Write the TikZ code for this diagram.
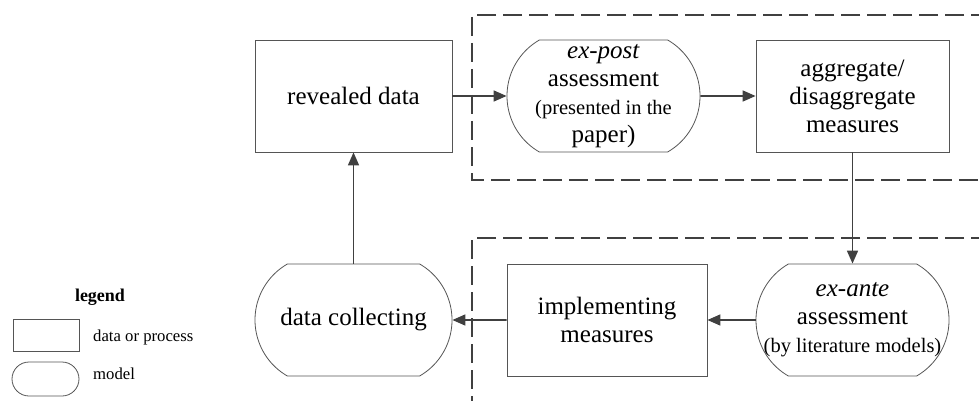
\documentclass[tikz,border=0pt]{standalone}
\usepackage{fontspec}
\setmainfont{Liberation Serif}
\usetikzlibrary{shapes.misc,arrows.meta}
\definecolor{linegray}{HTML}{404040}
\definecolor{boxgray}{HTML}{555555}
\newcommand{\smalltext}{\fontsize{20.5}{27}\selectfont}

\begin{document}
\begin{tikzpicture}[x=1pt,y=-1pt,
    databox/.style={draw=boxgray,line width=0.8pt,minimum width=193pt,minimum height=112pt,inner sep=0pt,align=center,font=\fontsize{25}{28}\selectfont},
    modelbox/.style={draw=boxgray,line width=0.8pt,rounded rectangle,rounded rectangle arc length=120,minimum width=193pt,minimum height=112pt,inner sep=0pt},
    modeltext/.style={align=center,inner sep=0pt,font=\fontsize{25}{28}\selectfont},
    flow/.style={draw=linegray,line width=1.6pt,-{Triangle[length=13pt,width=11pt]}},
    region/.style={draw=linegray,line width=2.6pt,dash pattern=on 19pt off 7pt}]
        \useasboundingbox (0,0) rectangle (979,401);
        \clip (0,0) rectangle (979,401);
        % dashed regions
        \draw[region] (990,15) -- (472,15) -- (472,180) -- (990,180);
        \draw[region] (990,238) -- (472,238) -- (472,410);
        % top row
        \node[databox,minimum width=197pt] (revealed) at (353.5,96) {revealed data};
        \node[modelbox] (expost) at (603.5,96) {};
        \node[modeltext] at (expost) {\textit{ex-post}\\assessment\\\smalltext (presented in the\\paper)};
        \node[databox] (aggregate) at (852.5,96) {aggregate/\\disaggregate\\measures};
        % bottom row
        \node[modelbox,minimum width=197pt] (collecting) at (353.5,320) {};
        \node[modeltext] at (collecting) {data collecting};
        \node[databox,minimum width=200pt] (implementing) at (607,320) {implementing\\measures};
        \node[modelbox] (exante) at (852.5,320) {};
        \node[modeltext] at (exante) {\textit{ex-ante}\\assessment\\\smalltext (by literature models)};
        % flows
        \draw[flow] (revealed) -- (expost);
        \draw[flow] (expost) -- (aggregate);
        \draw[flow] (aggregate) -- (exante);
        \draw[flow] (exante) -- (implementing);
        \draw[flow] (implementing) -- (collecting);
        \draw[flow] (collecting) -- (revealed);
        % legend
        \node[anchor=base,inner sep=0pt,font=\bfseries\fontsize{18}{20}\selectfont] (legendtitle) at (100,301.5) {legend};
        \node[draw=boxgray,line width=0.8pt,minimum width=66pt,minimum height=32pt,inner sep=0pt] (legrect) at (46,335) {};
        \node[draw=boxgray,line width=0.8pt,rounded rectangle,minimum width=67pt,minimum height=34pt,inner sep=0pt] (legmodel) at (45.5,379) {};
        \node[anchor=base west,inner sep=0pt,font=\fontsize{16.7}{18}\selectfont] (legrecttext) at (93,341) {data or process};
        \node[anchor=base west,inner sep=0pt,font=\fontsize{16.7}{18}\selectfont] (legmodeltext) at (93,379) {model};
\end{tikzpicture}
\end{document}
